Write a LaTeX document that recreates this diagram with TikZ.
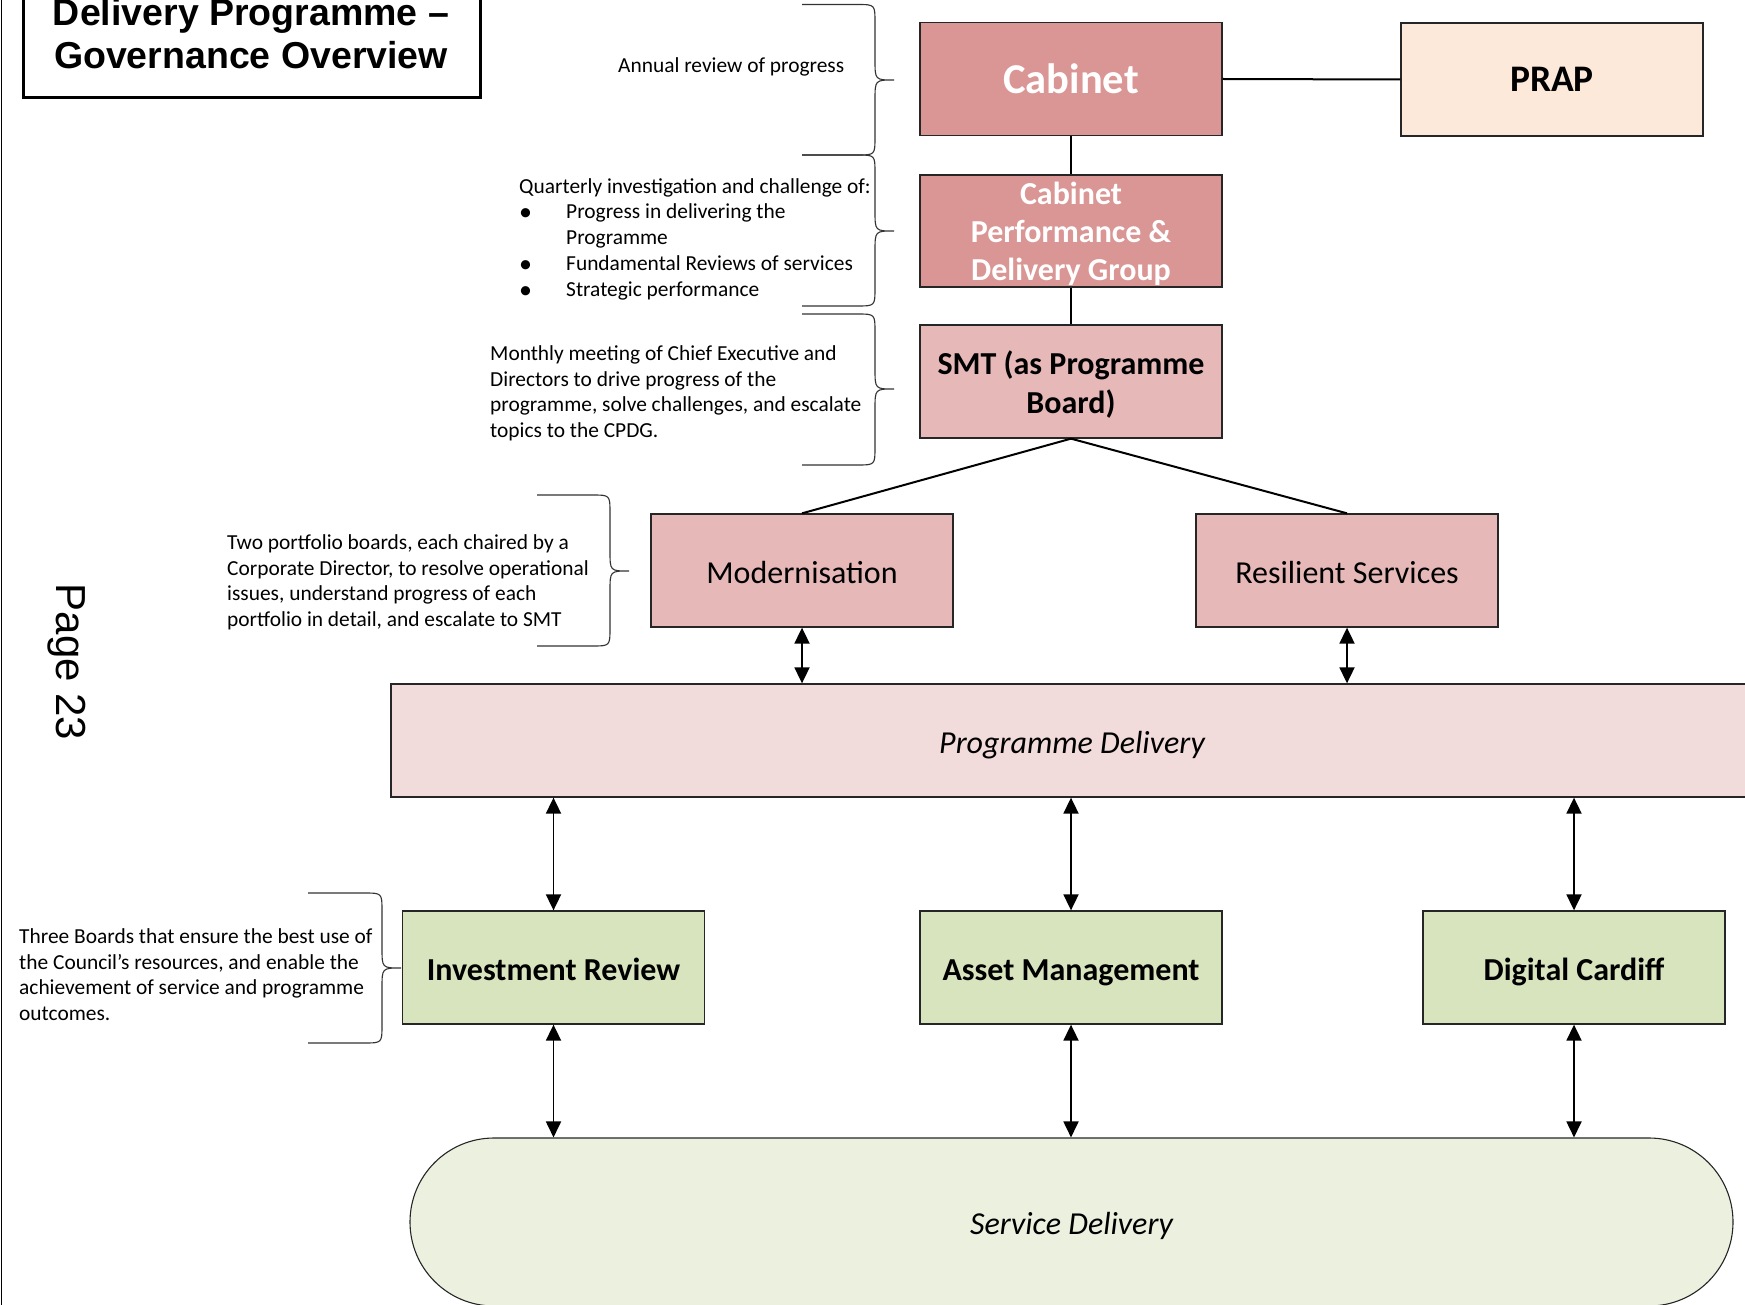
\documentclass[tikz,border=0pt]{standalone}
\usepackage{fontspec}
\setmainfont{Carlito}
\newfontfamily\arialfont{Liberation Sans}
\usetikzlibrary{arrows.meta}
\definecolor{cabfill}{HTML}{D99694}
\definecolor{smtfill}{HTML}{E6B9B8}
\definecolor{pdfill}{HTML}{F2DCDB}
\definecolor{prapfill}{HTML}{FCE9DA}
\definecolor{greenfill}{HTML}{D7E4BD}
\definecolor{sdfill}{HTML}{EBF1DE}
\newcommand\govbrace[6]{% xl, xv, yt, ym, yb, xt
  \draw[bracestyle] (#1,#3) -- (#2-18,#3) .. controls (#2,#3) .. (#2,#3+18)
    -- (#2,#4-20) .. controls (#2,#4) .. (#6,#4)
    .. controls (#2,#4) .. (#2,#4+20) -- (#2,#5-18)
    .. controls (#2,#5) .. (#2-18,#5) -- (#1,#5);}
\begin{document}
\begin{tikzpicture}[x=1pt,y=-1pt,
  box/.style={draw=black!85, line width=1.3pt, minimum width=302pt, minimum height=113pt,
    inner sep=0pt, align=center},
  oneline/.style={text height=25pt, text depth=0pt},
  mainfont/.style={oneline, font=\fontsize{32}{39}\selectfont},
  boldmain/.style={oneline, font=\bfseries\fontsize{32}{39}\selectfont},
  italmain/.style={oneline, font=\itshape\fontsize{32}{39}\selectfont},
  conn/.style={line width=2pt, black},
  dbl/.style={line width=1.8pt, black, {Triangle[width=15pt,length=16pt]}-{Triangle[width=15pt,length=16pt]}},
  bracestyle/.style={line width=1.1pt, black!80},
  note/.style={anchor=north west, align=left, inner sep=0pt, font=\fontsize{21.4}{25.8}\selectfont}
]
\useasboundingbox (0,0) rectangle (1745,1305);

% page edge line
\draw[line width=1.5pt] (1.5,-5) -- (1.5,1310);

% title
\draw[line width=3pt] (23,-40) rectangle (480,98);
\node[inner sep=0pt, align=center, font=\arialfont\bfseries\fontsize{37.5}{43}\selectfont, anchor=base] (title) at (251,69)
  {\raisebox{43pt}[0pt][0pt]{Delivery Programme –}\\[-43pt]Governance Overview};

% page number
\node[rotate=-90, inner sep=0pt, font=\arialfont\fontsize{42}{50}\selectfont] (pagenum) at (67,662) {Page 23};

% boxes
\node[box, fill=cabfill, text=white, font=\bfseries\fontsize{42.5}{48}\selectfont] (cab) at (1071,79) {Cabinet};
\node[box, fill=prapfill, font=\bfseries\fontsize{37.5}{42}\selectfont] (prap) at (1552,79.5) {PRAP};
\node[box, fill=cabfill, text=white, minimum height=112pt, font=\bfseries\fontsize{32}{37.8}\selectfont] (cpdg) at (1071,231)
  {\rule{0pt}{28pt}Cabinet\\Performance \&\\Delivery Group};
\node[box, fill=smtfill, font=\bfseries\fontsize{32}{39}\selectfont] (smt) at (1071,381.5)
  {\rule{0pt}{30pt}SMT (as Programme\\Board)};
\node[box, fill=smtfill, mainfont] (mod) at (802,570.5) {Modernisation};
\node[box, fill=smtfill, mainfont] (res) at (1347,570.5) {Resilient Services};
\node[box, fill=pdfill, minimum width=1362pt, italmain] (pd) at (1072,740.5) {Programme Delivery};
\node[box, fill=greenfill, boldmain] (ir) at (553.5,967.5) {Investment Review};
\node[box, fill=greenfill, boldmain] (am) at (1071,967.5) {Asset Management};
\node[box, fill=greenfill, boldmain] (dc) at (1574,967.5) {Digital Cardiff};
\node[box, fill=sdfill, minimum width=1323pt, minimum height=168pt, rounded corners=84pt, line width=1.1pt,
  italmain] (sd) at (1071.5,1222) {Service Delivery};

% connectors
\draw[conn] (cab.east) -- (prap.west);
\draw[conn] (cab.south) -- (cpdg.north);
\draw[conn] (cpdg.south) -- (smt.north);
\draw[conn] (smt.south) -- (mod.north);
\draw[conn] (smt.south) -- (res.north);
\draw[dbl] (mod.south) -- (mod.south |- pd.north);
\draw[dbl] (res.south) -- (res.south |- pd.north);
\draw[dbl] (ir.north) -- (ir.north |- pd.south);
\draw[dbl] (am.north) -- (am.north |- pd.south);
\draw[dbl] (dc.north) -- (dc.north |- pd.south);
\draw[dbl] (ir.south) -- (ir.south |- sd.north);
\draw[dbl] (am.south) -- (am.south |- sd.north);
\draw[dbl] (dc.south) -- (dc.south |- sd.north);

% braces
\govbrace{802}{875}{4.5}{80}{155}{894}
\govbrace{802}{875}{155}{231}{306}{894}
\govbrace{802}{875}{314}{389}{465}{894}
\govbrace{537}{610}{495}{571}{646}{629}
\govbrace{308}{382}{893}{968}{1043}{401}

% notes
\node[note] (n1) at (618,54) {\rule{0pt}{18pt}Annual review of progress};
\node[note] (n2) at (519,175) {\rule{0pt}{18pt}Quarterly investigation and challenge of:\\
  \makebox[47pt][l]{\fontsize{26}{26}\selectfont\raisebox{-2pt}{•}}Progress in delivering the\\
  \hspace*{47pt}Programme\\
  \makebox[47pt][l]{\fontsize{26}{26}\selectfont\raisebox{-2pt}{•}}Fundamental Reviews of services\\
  \makebox[47pt][l]{\fontsize{26}{26}\selectfont\raisebox{-2pt}{•}}Strategic performance};
\node[note] (n3) at (490,342) {\rule{0pt}{18pt}Monthly meeting of Chief Executive and\\
  Directors to drive progress of the\\
  programme, solve challenges, and escalate\\
  topics to the CPDG.};
\node[note] (n4) at (227,531) {\rule{0pt}{18pt}Two portfolio boards, each chaired by a\\
  Corporate Director, to resolve operational\\
  issues, understand progress of each\\
  portfolio in detail, and escalate to SMT};
\node[note] (n5) at (19,925) {\rule{0pt}{18pt}Three Boards that ensure the best use of\\
  the Council’s resources, and enable the\\
  achievement of service and programme\\
  outcomes.};
\end{tikzpicture}
\end{document}
